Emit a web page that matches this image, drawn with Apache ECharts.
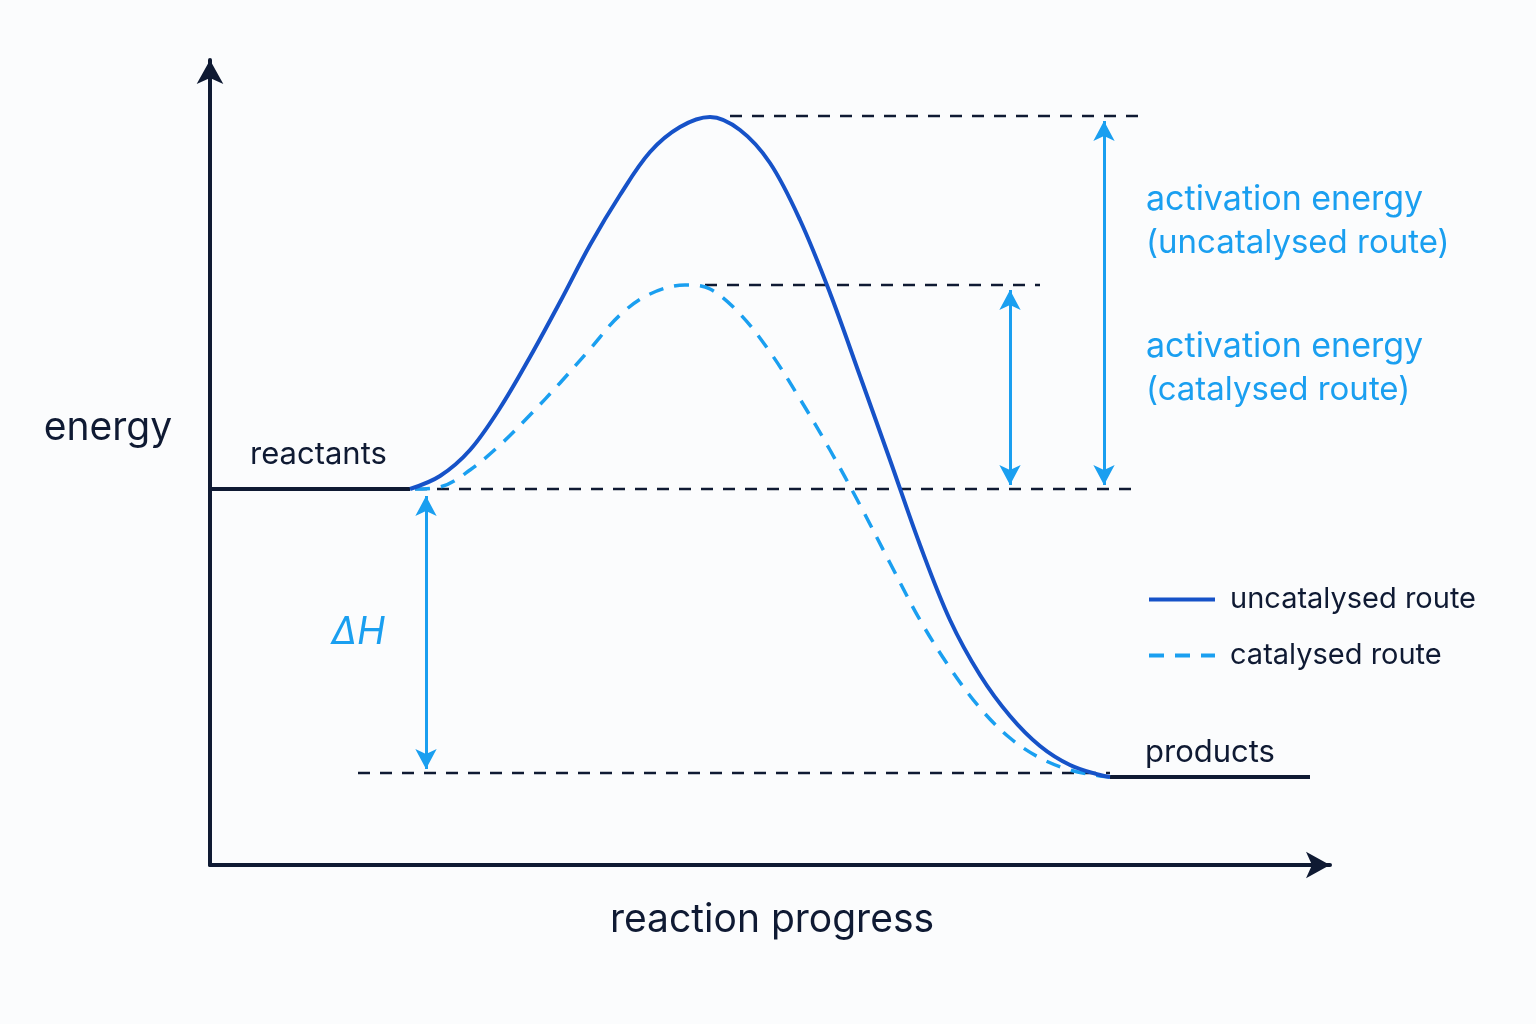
<!DOCTYPE html>
<html>
<head>
<meta charset="utf-8">
<script src="https://cdn.jsdelivr.net/npm/echarts@6/dist/echarts.min.js"></script>
<style>
  html, body { margin: 0; padding: 0; background: #fbfcfd; }
  #chart { width: 1536px; height: 1024px; }
</style>
</head>
<body>
<div id="chart"></div>
<script>
// reaction progress (x) / energy (y), arbitrary units
const uncatalysedX = [20, 23, 26, 29, 32, 35, 38, 41, 44, 47, 50, 53, 56, 59, 62, 65, 68, 71, 74, 77, 80, 83, 86, 89, 90];
const uncatalysedY = [37.6, 38.9, 41.5, 45.7, 50.8, 56.3, 62, 67, 71.3, 73.8, 74.8, 73.5, 70.2, 64.5, 57.2, 48.9, 40.5, 32, 24.5, 19, 14.9, 11.9, 10, 9, 8.8];

const catalysedX = [20.5, 23, 26, 29, 32, 35, 38, 41, 44, 47.5, 50, 53, 56, 59, 62, 65, 68, 71, 74, 77, 80, 83, 86, 89, 90];
const catalysedY = [37.6, 37.8, 39.5, 42, 45, 48.2, 51.6, 55, 57.1, 58, 57.6, 55.1, 51.3, 46.6, 41.5, 36, 30.2, 24.5, 19.7, 15.7, 12.7, 10.7, 9.5, 8.9, 8.8];

const reactantsLevel = [[0, 37.6], [20, 37.6]];
const productsLevel = [[90, 8.8], [110, 8.8]];

// dashed reference levels: [xStart, xEnd, y]
const guideLines = [
  [52, 93.3, 74.9],
  [49.5, 83, 58],
  [20.5, 93, 37.6],
  [14.8, 90, 9.2]
];

// double arrows: [x, yTop, yBottom]
const arrows = [
  [21.6, 36.9, 9.6],
  [80, 57.5, 38],
  [89.4, 74.4, 38]
];

const NAVY = '#0f1a33';
const ROYAL = '#1652c8';
const SKY = '#1a9ff0';
const FONT = "Inter, 'Noto Sans', sans-serif";

const zip = (xs, ys) => xs.map((x, i) => [x, ys[i]]);

const chart = echarts.init(document.getElementById('chart'));

const guideSeries = guideLines.map(([x1, x2, y]) => ({
  type: 'line',
  data: [[x1, y], [x2, y]],
  symbol: 'none',
  silent: true,
  lineStyle: { color: NAVY, width: 2.5, type: [12, 10] },
  z: 1
}));

function label(text, x, y, size, color, extra) {
  return {
    type: 'text', x, y,
    style: Object.assign({
      text, font: `${size}px ${FONT}`, fill: color,
      textAlign: 'left', textVerticalAlign: 'middle'
    }, extra || {})
  };
}

chart.setOption({
  backgroundColor: '#fbfcfd',
  animation: false,
  grid: { left: 210, top: 60, width: 1120, height: 805 },
  xAxis: {
    type: 'value', min: 0, max: 112,
    axisLine: { lineStyle: { color: NAVY, width: 4 }, symbol: ['none', 'arrow'], symbolSize: [20, 24] },
    axisTick: { show: false }, axisLabel: { show: false }, splitLine: { show: false }
  },
  yAxis: {
    type: 'value', min: 0, max: 80.5,
    axisLine: { lineStyle: { color: NAVY, width: 4 }, symbol: ['none', 'arrow'], symbolSize: [20, 24] },
    axisTick: { show: false }, axisLabel: { show: false }, splitLine: { show: false }
  },
  legend: {
    data: ['uncatalysed route', 'catalysed route'],
    orient: 'vertical',
    left: 1142, top: 580,
    itemWidth: 66, itemHeight: 30, itemGap: 27,
    itemStyle: { opacity: 0 },
    lineStyle: { width: 4 },
    textStyle: { fontFamily: FONT, fontSize: 29, color: NAVY, padding: [0, 0, 0, 10] }
  },
  series: [
    ...guideSeries,
    {
      type: 'line', data: reactantsLevel, symbol: 'none', silent: true,
      lineStyle: { color: NAVY, width: 4 }, z: 3
    },
    {
      type: 'line', data: productsLevel, symbol: 'none', silent: true,
      lineStyle: { color: NAVY, width: 4 }, z: 3
    },
    {
      name: 'catalysed route', type: 'line', data: zip(catalysedX, catalysedY),
      smooth: 0.35, symbol: 'none',
      lineStyle: { color: SKY, width: 3.5, type: [15, 11] }, itemStyle: { color: SKY }, z: 4
    },
    {
      name: 'uncatalysed route', type: 'line', data: zip(uncatalysedX, uncatalysedY),
      smooth: 0.35, symbol: 'none',
      lineStyle: { color: ROYAL, width: 4 }, itemStyle: { color: ROYAL }, z: 5
    },
    {
      type: 'line', data: [], silent: true,
      markLine: {
        silent: true,
        symbol: ['arrow', 'arrow'],
        symbolSize: [16, 20],
        label: { show: false },
        lineStyle: { color: SKY, width: 3, type: 'solid' },
        data: arrows.map(([x, y1, y2]) => [{ coord: [x, y1] }, { coord: [x, y2] }])
      }
    }
  ],
  graphic: [
    label('energy', 108, 428, 39, NAVY, { textAlign: 'center' }),
    label('reaction progress', 772, 920, 39, NAVY, { textAlign: 'center' }),
    label('reactants', 250, 455, 31, NAVY),
    label('products', 1145, 753, 31, NAVY),
    label('ΔH', 331, 633, 38, SKY, { font: `italic 38px ${FONT}` }),
    label('activation energy', 1146, 200, 34, SKY),
    label('(uncatalysed route)', 1146, 243, 33, SKY),
    label('activation energy', 1146, 347, 34, SKY),
    label('(catalysed route)', 1146, 390, 33, SKY)
  ]
});
</script>
</body>
</html>
